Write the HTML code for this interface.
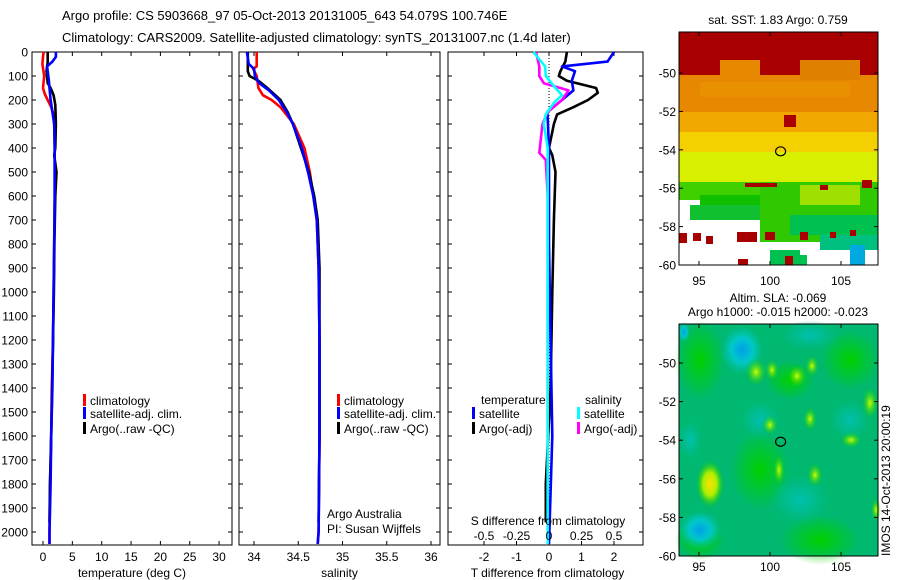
<!DOCTYPE html>
<html><head><meta charset="utf-8"><style>
body{margin:0;background:#fff}
svg{display:block;font-family:"Liberation Sans",sans-serif}
</style></head><body>
<svg id="c" width="900" height="580" viewBox="0 0 900 580">
<defs>
<radialGradient id="gy"><stop offset="0" stop-color="#ffe000"/><stop offset="0.5" stop-color="#aaee00"/><stop offset="1" stop-color="#00cc00" stop-opacity="0"/></radialGradient>
<radialGradient id="gg"><stop offset="0" stop-color="#ccff00"/><stop offset="1" stop-color="#00cc00" stop-opacity="0"/></radialGradient>
<radialGradient id="gc"><stop offset="0" stop-color="#00a0e8"/><stop offset="0.5" stop-color="#00c8c8"/><stop offset="1" stop-color="#00c0a0" stop-opacity="0"/></radialGradient>
<radialGradient id="gt"><stop offset="0" stop-color="#00c0b0"/><stop offset="1" stop-color="#00c0a0" stop-opacity="0"/></radialGradient>
<radialGradient id="gn"><stop offset="0" stop-color="#00d000"/><stop offset="1" stop-color="#00d000" stop-opacity="0"/></radialGradient>
</defs>
<text x="62" y="20" font-size="13">Argo profile: CS 5903668_97 05-Oct-2013 20131005_643 54.079S 100.746E</text>
<text x="62" y="42" font-size="13">Climatology: CARS2009. Satellite-adjusted climatology: synTS_20131007.nc (1.4d later)</text>
<g id="plots"></g>
<g id="maps"></g>
</svg>
<script>
const depthTicks=[0,100,200,300,400,500,600,700,800,900,1000,1100,1200,1300,1400,1500,1600,1700,1800,1900,2000];
const tempTicks=[0,5,10,15,20,25,30];
const salTicks=[34,34.5,35,35.5,36];
const tdTicks=[-2,-1,0,1,2];
const sdTicks=[-0.5,-0.25,0,0.25,0.5];
// temperature profiles
const tClimDepth=[0,20,50,100,150,175,200,230,260,300,400,600,800,1000,1200,1400,1600,1800,2000,2050];
const tClim=[0.1,0.0,-0.1,0.2,0.0,0.3,0.8,1.4,1.8,1.9,2.0,2.0,1.9,1.8,1.7,1.5,1.4,1.2,1.1,1.1];
const tSatDepth=[0,20,40,60,80,120,150,200,250,300,400,600,800,1000,1200,1400,1600,1800,2000,2050];
const tSat=[2.2,2.2,1.6,0.7,0.8,1.0,1.1,1.3,1.6,1.9,2.0,2.0,1.9,1.8,1.7,1.6,1.4,1.3,1.1,1.1];
const tArgoDepth=[0,40,80,130,150,180,220,300,400,430,500,600,800,1000,1200,1400,1600,1800,1960];
const tArgo=[0.8,0.8,0.6,0.8,1.3,1.8,2.1,2.2,2.1,1.9,2.3,2.1,1.95,1.85,1.7,1.55,1.4,1.2,1.1];
// salinity profiles
const sClimDepth=[0,60,70,100,150,180,200,230,300,400,500,600,700,900,1200,1600,2000,2050];
const sClim=[34.03,34.03,33.99,34.03,34.05,34.1,34.2,34.3,34.45,34.57,34.63,34.67,34.71,34.73,34.74,34.74,34.73,34.72];
const sSatDepth=[0,50,70,100,130,160,200,250,300,400,500,600,700,900,1200,1600,2000,2050];
const sSat=[33.92,33.94,34.0,34.01,34.06,34.17,34.28,34.37,34.44,34.54,34.61,34.67,34.71,34.73,34.74,34.74,34.73,34.72];
const sArgoDepth=[0,80,100,120,150,200,250,300,400,500,600,700,900,1200,1600,1960];
const sArgo=[33.93,33.93,33.95,34.05,34.15,34.3,34.38,34.44,34.53,34.62,34.68,34.72,34.74,34.74,34.74,34.73];
// differences from climatology
const dTSatDepth=[0,40,60,80,120,160,200,250,400,800,1200,1600,2050];
const dTSat=[2.0,1.8,0.4,0.8,0.7,0.75,0.4,-0.05,0.0,0.0,0.05,0.1,0.0];
const dTArgoDepth=[0,40,80,100,120,150,170,200,230,260,300,400,430,500,700,1000,1400,1800,1960];
const dTArgo=[0.55,0.5,0.35,0.3,0.55,1.45,1.5,1.2,0.75,0.25,0.15,0.0,0.1,0.2,0.15,0.1,0.05,-0.1,-0.1];
const dSSatDepth=[0,60,100,150,180,210,260,300,400,1000,2050];
const dSSat=[-0.12,-0.03,-0.025,0.05,0.1,0.04,-0.025,-0.04,-0.01,-0.01,-0.01];
const dSArgoDepth=[0,60,100,130,160,200,250,300,420,450,600,1200,1960];
const dSArgo=[-0.1,-0.075,-0.075,-0.04,0.15,0.1,-0.01,-0.05,-0.075,-0.025,-0.01,-0.01,-0.01];

const NS='http://www.w3.org/2000/svg';
const plots=document.getElementById('plots');
function mk(tag,attrs,parent,txt){const e=document.createElementNS(NS,tag);for(const k in attrs)e.setAttribute(k,attrs[k]);if(txt!==undefined)e.textContent=txt;(parent||plots).appendChild(e);return e;}
const Y0=52,YB=545;
const yD=d=>Y0+d*0.24;
const xT=v=>43+v*5.87;
const xS=v=>254+(v-34)*88.5;
const xDT=v=>549+v*32.5;
const xDS=v=>549+v*130;
const panels=[{l:32,r:232,ticks:tempTicks,fx:xT,title:'temperature (deg C)',name:'temperature'},
{l:239,r:440,ticks:salTicks,fx:xS,title:'salinity',name:'salinity'},
{l:448,r:643,ticks:tdTicks,fx:xDT,title:'T difference from climatology',name:'difference'}];
panels.forEach((p,i)=>{
 const g=mk('g',{});
 
 
 mk('rect',{x:p.l,y:Y0,width:p.r-p.l,height:YB-Y0,fill:'none',stroke:'#000','stroke-width':1},g);
 depthTicks.forEach(d=>{
  const y=yD(d);
  mk('line',{x1:p.l,y1:y,x2:p.l+4,y2:y,stroke:'#000'},g);
  mk('line',{x1:p.r,y1:y,x2:p.r-4,y2:y,stroke:'#000'},g);
  if(i===0){const t=mk('text',{x:28,y:y+4.5,'font-size':12,'text-anchor':'end'},g,String(d));
   }
 });
 p.ticks.forEach(v=>{
  const x=p.fx(v);
  mk('line',{x1:x,y1:YB,x2:x,y2:YB-4,stroke:'#000'},g);
  mk('line',{x1:x,y1:Y0,x2:x,y2:Y0+4,stroke:'#000'},g);
  const t=mk('text',{x:x,y:561,'font-size':12,'text-anchor':'middle'},g,String(v));
  
 });
 const tt=mk('text',{x:(p.l+p.r)/2+(i===2?2:0),y:577,'font-size':12,'text-anchor':'middle'},g,p.title);
 
});
let zl=mk('line',{x1:xDT(0),y1:Y0,x2:xDT(0),y2:YB,stroke:'#000','stroke-dasharray':'1,2','stroke-width':1});

function line(ds,vs,fx,col,name){
 const pts=ds.map((d,k)=>fx(vs[k]).toFixed(1)+','+yD(d).toFixed(1)).join(' ');
 const e=mk('polyline',{points:pts,fill:'none',stroke:col,'stroke-width':2.6,'stroke-linejoin':'round'});
 
 
}
line(tClimDepth,tClim,xT,'#ff0000','temp-climatology-line');
line(tArgoDepth,tArgo,xT,'#000000','temp-argo-line');
line(tSatDepth,tSat,xT,'#0000ff','temp-satellite-line');
line(sClimDepth,sClim,xS,'#ff0000','sal-climatology-line');
line(sArgoDepth,sArgo,xS,'#000000','sal-argo-line');
line(sSatDepth,sSat,xS,'#0000ff','sal-satellite-line');
line(dTArgoDepth,dTArgo,xDT,'#000000','tdiff-argo-line');
line(dTSatDepth,dTSat,xDT,'#0000ff','tdiff-satellite-line');
line(dSArgoDepth,dSArgo,xDS,'#ff00ff','sdiff-argo-line');
line(dSSatDepth,dSSat,xDS,'#00ffff','sdiff-satellite-line');
sdTicks.forEach(v=>{const t=mk('text',{x:xDS(v),y:540,'font-size':12,'text-anchor':'middle'},plots,String(v));
 });
let st=mk('text',{x:548,y:525,'font-size':12,'text-anchor':'middle'},plots,'S difference from climatology');

function leg(x,y,col,txt){
 const g=mk('g',{});
 
 
 mk('rect',{x:x,y:y-10,width:3,height:12,fill:col},g);
 mk('text',{x:x+7,y:y+1,'font-size':12},g,txt);
}
[[83],[337]].forEach(([x])=>{
 leg(x,404,'#ff0000','climatology');leg(x,417,'#0000ff','satellite-adj. clim.');leg(x,432,'#000','Argo(..raw -QC)');
});
mk('text',{x:481,y:404,'font-size':12},plots,'temperature');
mk('text',{x:585,y:404,'font-size':12},plots,'salinity');
leg(472,417,'#0000ff','satellite');leg(472,432,'#000','Argo(-adj)');
leg(577,417,'#00ffff','satellite');leg(577,432,'#ff00ff','Argo(-adj)');
let a1=mk('text',{x:327,y:518,'font-size':12},plots,'Argo Australia');

let a2=mk('text',{x:327,y:533,'font-size':12},plots,'PI: Susan Wijffels');


// ---- maps ----
const maps=document.getElementById('maps');
const lonTicks=[95,100,105];
const latTicks=[-50,-52,-54,-56,-58,-60];
const floatLon=100.746, floatLat=-54.079;
function mapAxes(top,bot,lat50,lat60,lblOff,name){
 const g=mk('g',{},maps);
 
 
 const L=679,R=878;
 const xL=v=>699+(v-95)*14.2;
 const yL=v=>lat50+(-50-v)*(lat60-lat50)/10;
 return {g,L,R,xL,yL,top,bot,fin(){
  mk('rect',{x:L,y:top,width:R-L,height:bot-top,fill:'none',stroke:'#000'},g);
  lonTicks.forEach(v=>{mk('line',{x1:xL(v),y1:bot,x2:xL(v),y2:bot-4,stroke:'#000'},g);mk('line',{x1:xL(v),y1:top,x2:xL(v),y2:top+4,stroke:'#000'},g);
   mk('text',{x:xL(v),y:bot+lblOff,'font-size':12,'text-anchor':'middle'},g,String(v));});
  latTicks.forEach(v=>{mk('line',{x1:L,y1:yL(v),x2:L+4,y2:yL(v),stroke:'#000'},g);mk('line',{x1:R,y1:yL(v),x2:R-4,y2:yL(v),stroke:'#000'},g);
   mk('text',{x:L-3,y:yL(v)+4.5,'font-size':12,'text-anchor':'end'},g,String(v));});
  mk('ellipse',{cx:xL(floatLon),cy:yL(floatLat),rx:5,ry:4.5,fill:'none',stroke:'#000','stroke-width':1.2},g);
 }};
}
let t1=mk('text',{x:778,y:24,'font-size':12,'text-anchor':'middle'},maps,'sat. SST: 1.83 Argo: 0.759');

let t2=mk('text',{x:778,y:302,'font-size':12,'text-anchor':'middle'},maps,'Altim. SLA: -0.069');

let t3=mk('text',{x:778,y:316,'font-size':12,'text-anchor':'middle'},maps,'Argo h1000: -0.015 h2000: -0.023');

// top SST map
const m1=mapAxes(32,265,73,265,20,'sst-map');
(function(g){
 const r=(x,y,w,h,c)=>mk('rect',{x,y,width:w,height:h,fill:c},g);
 r(679,32,199,233,'#ffffff');
 r(679,32,199,60,'#a80000');
 r(679,75,199,40,'#e88800');
 r(720,60,40,25,'#e88800');r(800,60,60,20,'#e08000');r(700,82,150,15,'#e89000');
 r(679,112,199,22,'#f0a800');
 r(679,132,199,22,'#f4d000');
 r(679,152,199,30,'#d8f000');
 r(679,182,199,18,'#40d000');
 r(700,195,80,12,'#10c000');
 r(690,205,70,15,'#10c030');
 r(760,182,118,60,'#30c800');
 r(800,185,60,20,'#a0e000');
 r(790,215,88,20,'#00c050');
 r(820,235,58,15,'#00c080');
 r(850,245,15,20,'#00a8e0');
 r(770,250,30,15,'#00c050');
 r(784,115,12,12,'#a80000');
 r(745,183,32,4,'#a80000');r(820,185,8,5,'#a80000');r(862,180,10,8,'#a80000');
 r(679,233,8,10,'#a80000');r(693,233,8,8,'#a80000');r(706,236,7,8,'#a80000');
 r(737,232,20,10,'#a80000');r(765,232,10,8,'#a80000');r(800,232,8,8,'#a80000');
 r(738,259,10,6,'#a80000');r(785,256,8,9,'#a80000');r(795,255,12,10,'#00c050');
 r(830,232,6,6,'#a80000');r(850,230,6,6,'#a80000');
})(m1.g);
m1.fin();
// bottom SLA map
const m2=mapAxes(324,556,363,556,15,'sla-map');
(function(g){
 mk('rect',{x:679,y:324,width:199,height:232,fill:'#00b870'},g);
 const b=(cx,cy,rx,ry,f)=>mk('ellipse',{cx,cy,rx,ry,fill:'url(#'+f+')'},g);
 b(700,360,25,40,'gn');b(760,470,30,40,'gn');b(850,360,30,30,'gn');b(820,540,40,25,'gn');b(700,540,25,20,'gn');b(790,380,25,20,'gn');
 b(742,350,22,25,'gc');b(684,332,6,10,'gc');b(810,335,30,15,'gt');b(760,420,20,20,'gt');
 b(850,420,20,20,'gt');b(700,530,22,20,'gc');b(800,500,30,25,'gt');b(690,440,12,20,'gt');
 b(710,484,14,24,'gy');b(756,372,11,14,'gg');b(772,370,7,11,'gg');b(797,376,10,12,'gg');
 b(812,366,7,11,'gg');b(770,425,8,10,'gg');b(810,419,7,12,'gg');
 b(870,403,8,16,'gg');b(851,440,11,8,'gg');b(779,470,6,16,'gg');b(815,475,8,12,'gg');
 b(876,510,5,12,'gg');
})(m2.g);
m2.fin();
let ts=mk('text',{x:0,y:0,'font-size':12,transform:'translate(890,556) rotate(-90)'},maps,'IMOS 14-Oct-2013 20:00:19');


</script>
</body></html>
